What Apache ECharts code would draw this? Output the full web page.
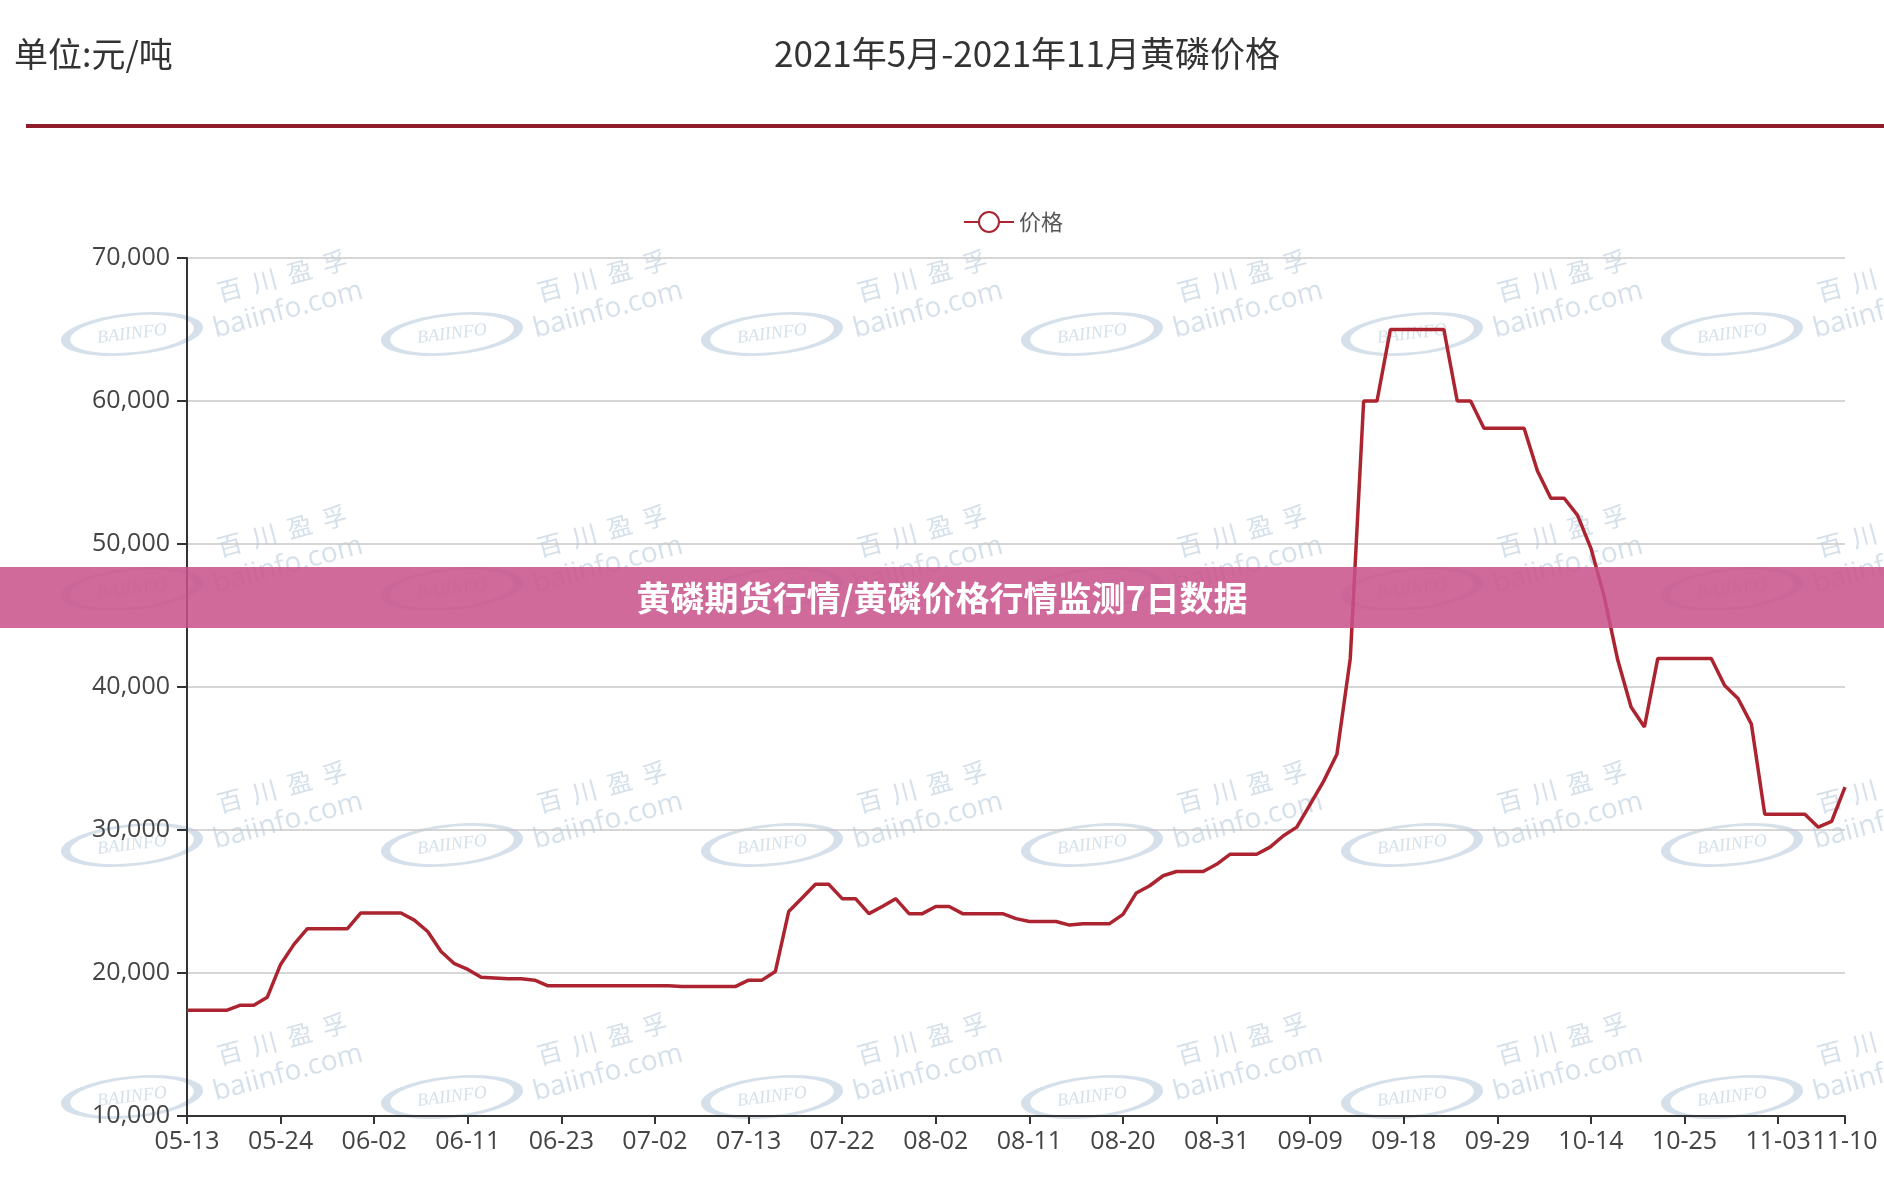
<!DOCTYPE html>
<html>
<head>
<meta charset="utf-8">
<script src="https://cdn.jsdelivr.net/npm/echarts@6/dist/echarts.min.js"></script>
<style>
html,body{margin:0;padding:0;background:#ffffff;}
#chart{width:1884px;height:1196px;}
</style>
</head>
<body>
<div id="chart"></div>
<script>
// ---- data ----
const dates = [
  '05-13','05-14','05-17','05-18','05-19','05-20','05-21',
  '05-24','05-25','05-26','05-27','05-28','05-31','06-01',
  '06-02','06-03','06-04','06-07','06-08','06-09','06-10',
  '06-11','06-15','06-16','06-17','06-18','06-21','06-22',
  '06-23','06-24','06-25','06-28','06-29','06-30','07-01',
  '07-02','07-05','07-06','07-07','07-08','07-09','07-12',
  '07-13','07-14','07-15','07-16','07-19','07-20','07-21',
  '07-22','07-23','07-26','07-27','07-28','07-29','07-30',
  '08-02','08-03','08-04','08-05','08-06','08-09','08-10',
  '08-11','08-12','08-13','08-16','08-17','08-18','08-19',
  '08-20','08-23','08-24','08-25','08-26','08-27','08-30',
  '08-31','09-01','09-02','09-03','09-06','09-07','09-08',
  '09-09','09-10','09-13','09-14','09-15','09-16','09-17',
  '09-18','09-22','09-23','09-24','09-26','09-27','09-28',
  '09-29','09-30','10-08','10-09','10-11','10-12','10-13',
  '10-14','10-15','10-18','10-19','10-20','10-21','10-22',
  '10-25','10-26','10-27','10-28','10-29','11-01','11-02',
  '11-03','11-04','11-05','11-08','11-09',
  '11-10'
];
const prices = [
  17400,17400,17400,17400,17750,17750,18300,
  20600,22000,23100,23100,23100,23100,24200,
  24200,24200,24200,23700,22900,21500,20650,
  20250,19700,19650,19600,19600,19500,19100,
  19100,19100,19100,19100,19100,19100,19100,
  19100,19100,19050,19050,19050,19050,19050,
  19500,19500,20100,24300,25250,26200,26200,
  25200,25200,24150,24650,25200,24150,24150,
  24650,24650,24150,24150,24150,24150,23800,
  23600,23600,23600,23350,23450,23450,23450,
  24100,25600,26100,26800,27100,27100,27100,
  27600,28300,28300,28300,28800,29600,30200,
  31800,33400,35300,42000,60000,60000,65000,
  65000,65000,65000,65000,60000,60000,58100,
  58100,58100,58100,55100,53200,53200,52000,
  49700,46300,41900,38600,37200,42000,42000,
  42000,42000,42000,40100,39200,37400,31100,
  31100,31100,31100,30200,30600,
  33000
];
const seriesName = '价格';
const chartTitle = '2021年5月-2021年11月黄磷价格';
const unitText = '单位:元/吨';
const bannerText = '黄磷期货行情/黄磷价格行情监测7日数据';
const yMin = 10000, yMax = 70000, yStep = 10000;
const labelEvery = 7;

// ---- chart ----
const lastIdx = dates.length - 1;
const showIdx = (i) => i % labelEvery === 0 || i === lastIdx;

const wmColor = 'rgba(185,204,220,0.6)';
const watermark = [];
const colX = [132, 452, 772, 1092, 1412, 1732];
const rowY = [334, 589, 845, 1097];
rowY.forEach(function (cy) {
  colX.forEach(function (cx) {
    watermark.push({
      type: 'circle', x: cx, y: cy, scaleX: 2.9, scaleY: 0.85, rotation: 0.1, z: 0, silent: true,
      shape: { cx: 0, cy: 0, r: 23 },
      style: { fill: 'none', stroke: wmColor, lineWidth: 5, strokeNoScale: true }
    });
    watermark.push({
      type: 'text', x: cx, y: cy, rotation: 0.12, z: 0, silent: true,
      style: { text: 'BAIINFO', fill: wmColor, font: 'italic 18px "Liberation Serif"', textAlign: 'center', textVerticalAlign: 'middle' }
    });
    watermark.push({
      type: 'text', x: cx + 150, y: cy - 58, rotation: 0.26, z: 0, silent: true,
      style: { text: '百  川  盈  孚', fill: wmColor, font: '25px "Noto Sans CJK SC"', textAlign: 'center', textVerticalAlign: 'middle' }
    });
    watermark.push({
      type: 'text', x: cx + 156, y: cy - 24, rotation: 0.26, z: 0, silent: true,
      style: { text: 'baiinfo.com', fill: wmColor, font: '28px "Open Sans"', textAlign: 'center', textVerticalAlign: 'middle' }
    });
  });
});

const chart = echarts.init(document.getElementById('chart'), null, { renderer: 'canvas' });
chart.setOption({
  backgroundColor: '#ffffff',
  animation: false,
  grid: { left: 187, right: 39, top: 258, bottom: 80, outerBoundsMode: 'none' },
  legend: {
    left: 958, top: 206, itemWidth: 50, itemHeight: 25,
    data: [seriesName],
    textStyle: { fontSize: 22, color: '#555', fontFamily: '"Noto Sans CJK SC", sans-serif' }
  },
  xAxis: {
    type: 'category',
    data: dates,
    boundaryGap: false,
    axisLine: { show: true, lineStyle: { color: '#333', width: 2 } },
    axisTick: { show: true, interval: showIdx, length: 8, lineStyle: { color: '#333', width: 2 } },
    axisLabel: { interval: showIdx, fontSize: 25, color: '#444', fontFamily: '"Open Sans", sans-serif', margin: 13 },
    splitLine: { show: false }
  },
  yAxis: {
    type: 'value',
    min: yMin, max: yMax, interval: yStep,
    axisLine: { show: true, lineStyle: { color: '#333', width: 2 } },
    axisTick: { show: true, length: 10, lineStyle: { color: '#333', width: 2 } },
    axisLabel: {
      fontSize: 25, color: '#444', fontFamily: '"Open Sans", sans-serif', margin: 17,
      formatter: function (v) { return v.toLocaleString('en-US'); }
    },
    splitLine: { show: true, lineStyle: { color: '#c8c8c8', width: 1.5 } }
  },
  series: [{
    name: seriesName,
    type: 'line',
    data: prices,
    symbol: 'emptyCircle',
    showSymbol: false,
    smooth: false,
    lineStyle: { color: '#ab2430', width: 3.5 },
    itemStyle: { color: '#ab2430' },
    z: 3
  }],
  graphic: watermark.concat([
    {
      type: 'text', x: 14, y: 54, z: 10,
      style: { text: unitText, fill: '#333', font: '34px "Noto Sans CJK SC"', textAlign: 'left', textVerticalAlign: 'middle' }
    },
    {
      type: 'text', x: 1027, y: 54, z: 10,
      style: { text: chartTitle, fill: '#333', font: '35px "Noto Sans CJK SC"', textAlign: 'center', textVerticalAlign: 'middle' }
    },
    {
      type: 'rect', x: 26, y: 124, z: 10,
      shape: { x: 0, y: 0, width: 1858, height: 4 },
      style: { fill: '#8f1d2c' }
    },
    {
      type: 'rect', x: 0, y: 567, z: 100,
      shape: { x: 0, y: 0, width: 1884, height: 61 },
      style: { fill: 'rgba(200,82,138,0.86)' }
    },
    {
      type: 'text', x: 942, y: 598, z: 101,
      style: { text: bannerText, fill: '#ffffff', font: 'bold 34px "Noto Sans CJK SC"', textAlign: 'center', textVerticalAlign: 'middle' }
    }
  ])
});
</script>
</body>
</html>
